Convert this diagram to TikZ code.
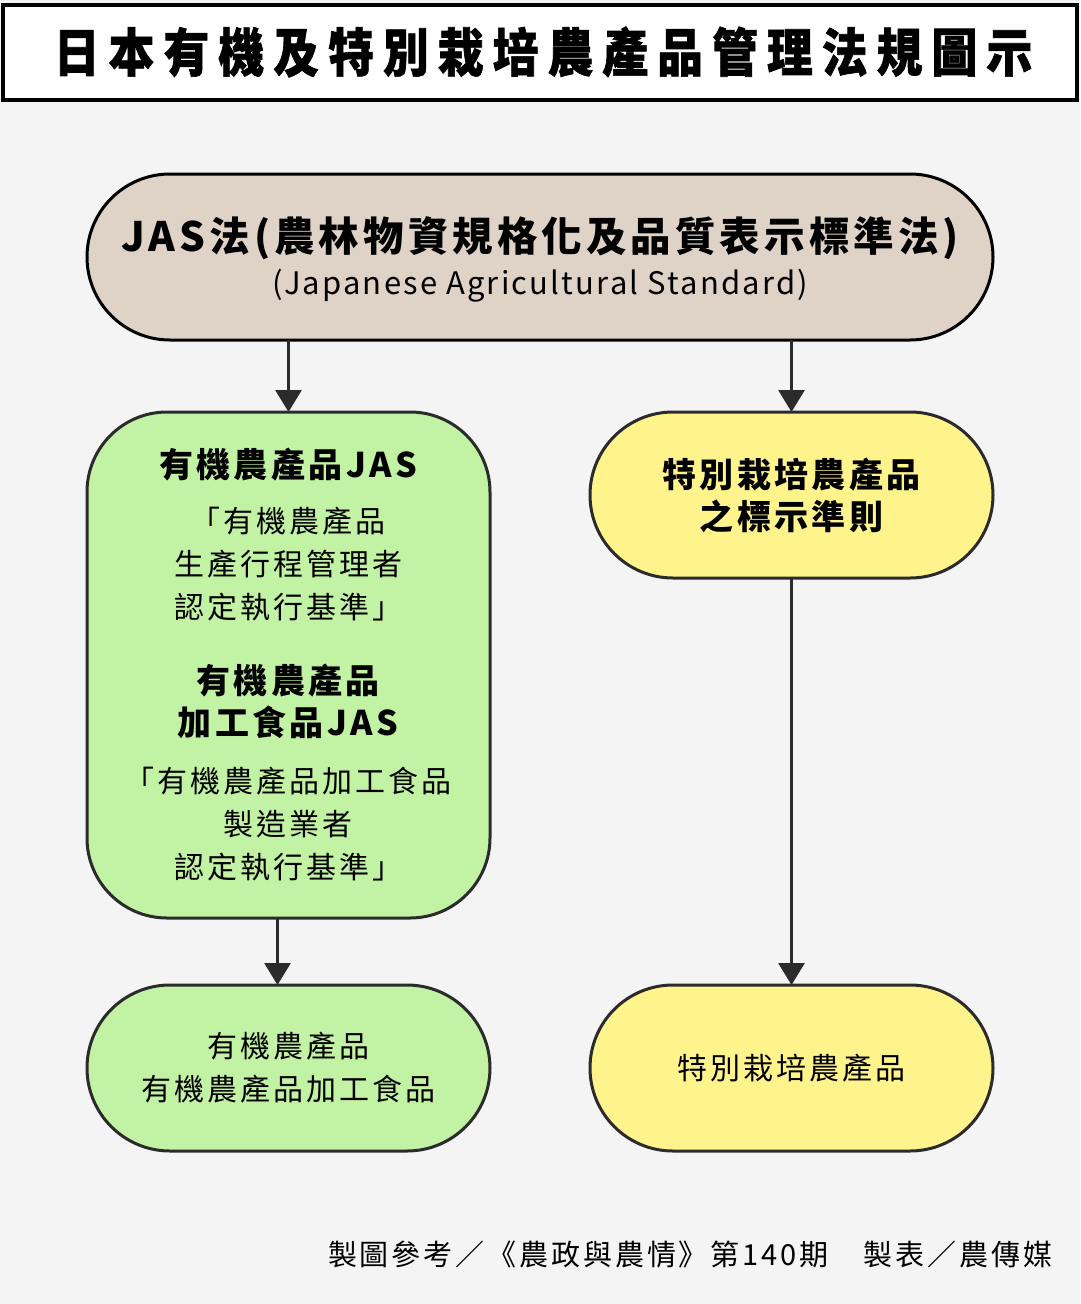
\documentclass[tikz,border=0pt]{standalone}
\usepackage{fontspec}
\setmainfont{Noto Sans CJK TC}[LetterSpace=10]
\newfontfamily\titlefont{Noto Sans CJK TC}[FakeStretch=0.88,LetterSpace=17.5,FakeBold=1.2]
\newfontfamily\latinfont{Noto Sans CJK TC}[LetterSpace=7]
\usetikzlibrary{arrows.meta}
\definecolor{bgc}{HTML}{F4F4F4}
\definecolor{jasc}{HTML}{DFD3C8}
\definecolor{greenc}{HTML}{C2F2A4}
\definecolor{yellowc}{HTML}{FFF48C}
\definecolor{linec}{HTML}{2B2B2B}
\tikzset{
  box/.style={draw=linec, line width=3pt, rounded corners=80pt, inner sep=0pt, outer sep=0pt},
  txt/.style={inner sep=0pt, outer sep=0pt, align=center, text=black},
  reg/.style={txt, font=\fontsize{30}{43}\selectfont},
  bld/.style={txt, font=\fontsize{34}{42}\selectfont\bfseries},
  arr/.style={draw=linec, line width=3pt, -{Triangle[width=26pt,length=22pt]}}
}
\begin{document}
\begin{tikzpicture}[x=1pt,y=-1pt]
\fill[bgc] (0,0) rectangle (1080,1304);
\useasboundingbox (0,0) rectangle (1080,1304);
% title
\node[draw=black, fill=white, line width=4pt, minimum width=1074pt, minimum height=95pt, inner sep=0pt] (titlebox) at (540,52) {};
\node[txt, font=\fontsize{52}{60}\selectfont\titlefont\bfseries] (title) at (543,52) {日本有機及特別栽培農產品管理法規圖示};
% JAS
\node[box, draw=black, fill=jasc, minimum width=906pt, minimum height=166pt, rounded corners=83pt] (jas) at (540,257) {};
\node[txt, font=\fontsize{40.5}{46}\selectfont\bfseries] (jas1) at (540,238) {JAS法(農林物資規格化及品質表示標準法)};
\node[txt, font=\fontsize{31}{40}\selectfont\latinfont] (jas2) at (540,286) {(Japanese Agricultural Standard)};
% green big
\node[box, fill=greenc, minimum width=403pt, minimum height=506pt] (org) at (288.5,665) {};
\node[bld] (orgA) at (288,465) {有機農產品JAS};
\node[reg] (orgB) at (288,564) {「有機農產品\\生產行程管理者\\認定執行基準」};
\node[bld] (orgC) at (288,701) {有機農產品\\加工食品JAS};
\node[reg] (orgD) at (288,824) {「有機農產品加工食品\\製造業者\\認定執行基準」};
% yellow top
\node[box, fill=yellowc, minimum width=403pt, minimum height=166pt, rounded corners=83pt] (spc) at (791.5,495) {};
\node[bld] (spcT) at (791.5,495) {特別栽培農產品\\之標示準則};
% green bottom
\node[box, fill=greenc, minimum width=403pt, minimum height=166pt, rounded corners=83pt] (orgP) at (288.5,1068) {};
\node[reg] (orgPT) at (288.5,1068) {有機農產品\\有機農產品加工食品};
% yellow bottom
\node[box, fill=yellowc, minimum width=403pt, minimum height=166pt, rounded corners=83pt] (spcP) at (791.5,1068) {};
\node[reg] (spcPT) at (791.5,1068) {特別栽培農產品};
% arrows
\draw[arr] (jas.south -| org.north) -- (org.north);
\draw[arr] (jas.south -| spc.north) -- (spc.north);
\draw[arr] ([xshift=-11pt]org.south) -- ([xshift=-11pt]orgP.north);
\draw[arr] (spc.south) -- (spcP.north);
% footer
\node[txt, anchor=east, font=\fontsize{29}{35}\selectfont] (foot) at (1052,1255) {製圖參考／《農政與農情》第140期　製表／農傳媒};
\end{tikzpicture}
\end{document}
